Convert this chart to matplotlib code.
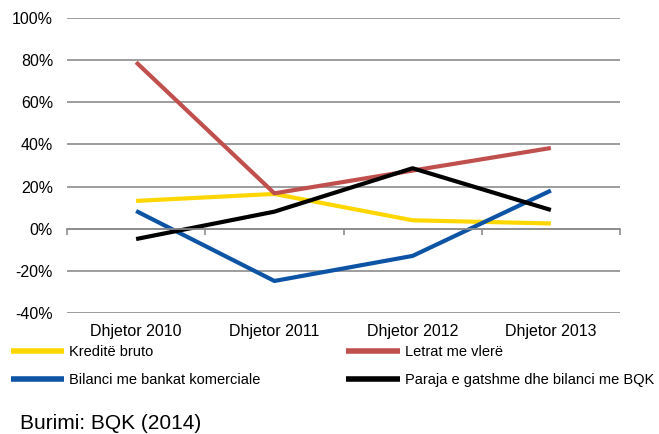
import matplotlib.pyplot as plt
from matplotlib.ticker import FuncFormatter
import numpy as np

plt.rcParams['font.family'] = ['Liberation Sans', 'DejaVu Sans']

categories = ["Dhjetor 2010", "Dhjetor 2011", "Dhjetor 2012", "Dhjetor 2013"]
kredite_bruto = [13.2, 16.5, 4.0, 2.5]
letrat_me_vlere = [79.0, 16.8, 27.6, 38.3]
bilanci_bankat = [8.4, -24.8, -12.9, 18.1]
paraja_bqk = [-4.9, 8.1, 28.7, 8.9]
y_ticks = [-40, -20, 0, 20, 40, 60, 80, 100]

series = [
    ("Kreditë bruto", kredite_bruto, "#FFD700"),
    ("Letrat me vlerë", letrat_me_vlere, "#C0504D"),
    ("Bilanci me bankat komerciale", bilanci_bankat, "#0D54A5"),
    ("Paraja e gatshme dhe bilanci me BQK", paraja_bqk, "#000000"),
]

fig = plt.figure(figsize=(6.59, 4.34), dpi=100)
ax = fig.add_axes([67 / 659, 1 - 313 / 434, 553 / 659, 295 / 434])

x = np.arange(len(categories))
handles = {}
for label, values, color in series:
    line, = ax.plot(x, values, color=color, linewidth=3, solid_capstyle='butt', label=label)
    handles[label] = line

ax.set_xlim(-0.5, len(categories) - 0.5)
ax.set_ylim(-40, 100)
ax.set_yticks(y_ticks)
ax.yaxis.set_major_formatter(FuncFormatter(lambda v, p: f"{v:.0f}%"))
ax.tick_params(axis='y', length=0, labelsize=11.5, pad=10)
ax.grid(axis='y', color='#8C8C8C', linewidth=1.2)
ax.set_axisbelow(True)

for side in ['top', 'right', 'left']:
    ax.spines[side].set_visible(False)
ax.spines['bottom'].set_position(('data', 0))
ax.spines['bottom'].set_color('#8C8C8C')
ax.spines['bottom'].set_linewidth(1.2)
ax.set_xticks(np.arange(-0.5, len(categories), 1.0))
ax.set_xticklabels([])
ax.tick_params(axis='x', direction='out', length=4, width=1.2, color='#8C8C8C')

for i, cat in enumerate(categories):
    ax.text(i, -0.063, cat, transform=ax.get_xaxis_transform(),
            ha='center', va='center', fontsize=11.5)

leg_kw = dict(frameon=False, fontsize=10.5, handlelength=3.7, handletextpad=0.34,
              labelspacing=0.95, borderaxespad=0, borderpad=0)
col1 = ["Kreditë bruto", "Bilanci me bankat komerciale"]
col2 = ["Letrat me vlerë", "Paraja e gatshme dhe bilanci me BQK"]
leg1 = fig.legend([handles[k] for k in col1], col1, loc='upper left',
                  bbox_to_anchor=(10.5 / 659, 1 - 345 / 434), **leg_kw)
leg2 = fig.legend([handles[k] for k in col2], col2, loc='upper left',
                  bbox_to_anchor=(346 / 659, 1 - 345 / 434), **leg_kw)
for leg in (leg1, leg2):
    for h in leg.legend_handles:
        h.set_linewidth(4)

fig.text(20 / 659, 1 - 429 / 434, "Burimi: BQK (2014)", fontsize=15, ha='left', va='baseline')

fig.savefig("out.png", dpi=100)
